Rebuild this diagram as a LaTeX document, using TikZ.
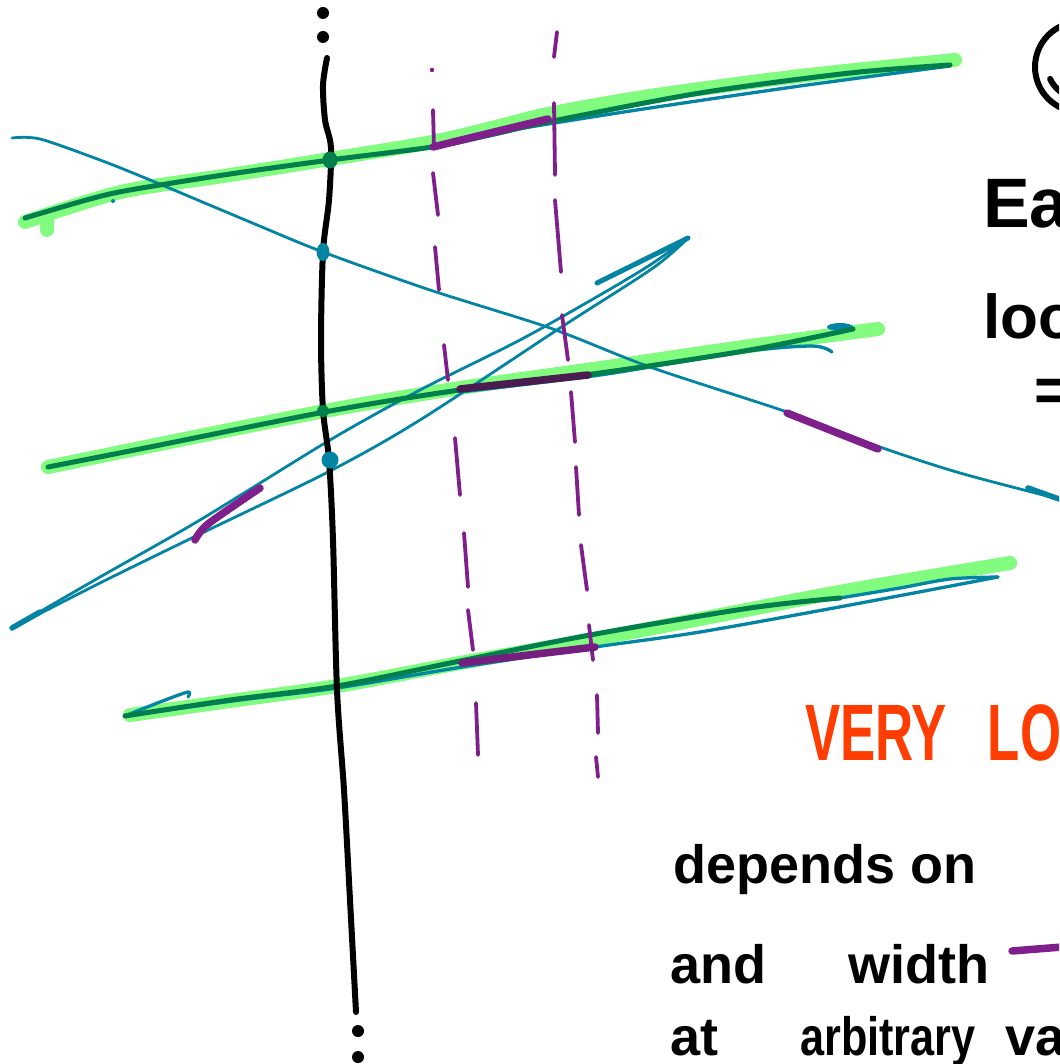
\documentclass[tikz,border=0pt]{standalone}
\usepackage{fontspec}
\usepackage{graphicx}
\newfontfamily\handfont{Liberation Sans}
\definecolor{glowgreen}{HTML}{82FC7E}
\definecolor{fitgreen}{HTML}{007F4C}
\definecolor{tealblue}{HTML}{0384A3}
\definecolor{sliceviolet}{HTML}{7E1F8C}
\definecolor{deepviolet}{HTML}{4A1C50}
\definecolor{alertorange}{HTML}{FF3D00}
\tikzset{
  spine/.style={line width=6pt, line cap=round, black},
  glow/.style={line width=14pt, line cap=round, glowgreen},
  fitline/.style={line width=5pt, line cap=round, line join=round, fitgreen},
  sample/.style={line width=3.3pt, line cap=round, line join=round, tealblue},
  slice/.style={line width=3.8pt, line cap=round, sliceviolet},
  hitseg/.style={line width=7.5pt, line cap=round, sliceviolet},
  hand/.style={anchor=base west, inner sep=0pt, font={\handfont\bfseries\fontsize{54}{60}\selectfont}}
}

\begin{document}
\begin{tikzpicture}[x=1pt,y=-1pt]
\useasboundingbox (0,0) rectangle (1059,1064);
\fill[white] (0,0) rectangle (1059,1064);
\clip (0,0) rectangle (1059,1064);

% green fits, highlighted
\draw[glow] plot[smooth] coordinates {(25,222) (70,207) (130,190) (230,175) (330,159) (432,142) (500,126) (548,114) (650,96) (800,76) (955,60)};
\draw[glow] (47,222) -- (47,230);
\draw[glow] plot[smooth] coordinates {(48,467) (150,446) (330,410) (460,388) (600,368) (750,346) (878,329)};
\draw[glow] plot[smooth] coordinates {(130,715) (230,701) (337,686) (460,663) (590,640) (700,619) (850,590) (1010,563)};

% long teal sample
\draw[sample, line width=2.8pt] plot[smooth] coordinates {(12,138) (40,139) (100,160) (150,180) (250,222) (323,252) (430,290) (550,328) (650,367) (790,413) (880,447) (960,473) (1059,499)};
\draw[sample, line width=5.5pt] (1028,488) -- (1059,499);

% narrow diagonal loop
\draw[sample, line width=2.8pt] plot[smooth] coordinates {(12,628) (100,577) (200,520) (330,440) (420,390) (520,340) (600,295) (650,265) (688,238)};
\draw[sample, line width=2.8pt] plot[smooth] coordinates {(688,238) (653,268) (560,328) (420,420) (330,471) (200,534) (100,583) (12,628)};
\draw[sample, line width=5pt] (597,283) -- (688,238);
\draw[sample, line width=5.5pt] (12,628) -- (40,612);

% teal samples along the fits
\draw[sample] plot[smooth] coordinates {(950,66) (800,86) (650,108) (548,124) (500,132)};
\fill[tealblue] (113,201) circle (2pt);
\draw[sample] plot[smooth] coordinates {(832,352) (812,346) (740,352) (600,375) (460,392)};
\fill[tealblue] (840,327) ellipse (13pt and 4pt);
\draw[sample] plot[smooth] coordinates {(125,716) (240,700) (337,688) (462,667) (595,647) (700,632) (850,605) (998,577)};
\draw[sample] plot[smooth] coordinates {(998,577) (950,579) (900,588) (840,598)};
\draw[sample] plot[smooth] coordinates {(125,716) (160,702) (188,692) (188,697)};

% dark green fits
\draw[fitline] plot[smooth] coordinates {(25,218) (90,199) (130,190) (230,174) (330,160) (432,147) (490,135) (548,122) (700,93) (850,73) (950,65)};
\draw[fitline] plot[smooth] coordinates {(48,467) (150,447) (330,411) (460,390) (600,373) (750,350) (853,329)};
\draw[fitline] plot[smooth] coordinates {(125,716) (230,700) (337,686) (460,661) (590,635) (750,608) (840,598)};

% dashed slice
\fill[sliceviolet] (432,70) circle (2.2pt);
\foreach \ya/\xa/\yb/\xb in {110/433/148/434, 173/433/215/438, 247/435/290/439, 345/444/380/448, 438/455/495/460, 533/464/587/468, 610/468/650/473, 703/476/755/478}
  \draw[slice] (\xa,\ya) -- (\xb,\yb);
\foreach \ya/\xa/\yb/\xb in {32/557/57/554, 103/554/175/555, 200/555/272/561, 315/562/360/568, 392/571/442/575, 467/576/515/579, 545/581/590/587, 625/589/660/593, 695/597/733/598, 757/596/777/598}
  \draw[slice] (\xa,\ya) -- (\xb,\yb);

% picked pieces
\draw[hitseg] plot[smooth] coordinates {(433,147) (490,133) (548,119)};
\draw[hitseg, deepviolet] (460,389) -- (588,375);
\draw[hitseg, sliceviolet!80!deepviolet] (462,663) -- (595,647);
\draw[hitseg] plot[smooth] coordinates {(195,540) (208,524) (260,488)};
\draw[hitseg] (787,413) -- (878,449);

% spine
\draw[spine] plot[smooth] coordinates {(327,58) (323,85) (325,120) (331,148) (329,200) (323,252) (321,340) (323,410) (329,460) (333,540) (337,690) (344,790) (350,900) (356,1012)};
\foreach \cy in {13,37}
  \fill (323,\cy) circle (6pt);
\foreach \cy in {1031,1057}
  \fill (358,\cy) circle (6pt);

% crossings
\coordinate (cutA) at (330,160);
\coordinate (cutB) at (323,252);
\coordinate (cutC) at (323,411);
\coordinate (cutD) at (330,460);
\fill[fitgreen] (cutA) ellipse (7.5pt and 8.5pt);
\fill[tealblue] (cutB) ellipse (6.5pt and 9pt);
\fill[fitgreen] (cutC) circle (6pt);
\fill[tealblue] (cutD) circle (8.5pt);

% notes on the right
\draw[line width=6pt] (1080,67) circle (45pt);
\draw[line width=6pt, line cap=round] (1080,65) ++(155:33) arc[start angle=155, end angle=25, radius=33];
\node[hand, font={\handfont\bfseries\fontsize{70}{74}\selectfont}] (each) at (983,228) {Each};
\node[hand, font={\handfont\bfseries\fontsize{62}{66}\selectfont}] (looks) at (983,338) {looks};
\node[hand, font={\handfont\bfseries\fontsize{62}{66}\selectfont}] (eq) at (1034,411) {=};
\node[hand, text=alertorange, font={\handfont\bfseries\fontsize{80}{84}\selectfont}] (verylow) at (805,760) {\scalebox{0.66}[1]{VERY\hspace{62pt}LOW}};
\node[hand] (depends) at (673,883) {depends on};
\node[hand] (andwidth) at (670,983) {and\hspace{82pt}width};
\draw[hitseg] (1012,951) -- (1062,947);
\node[hand] (arbitrary) at (670,1055) {at\hspace{82pt}\scalebox{0.8}[1]{arbitrary}\hspace{30pt}values};
\end{tikzpicture}
\end{document}
